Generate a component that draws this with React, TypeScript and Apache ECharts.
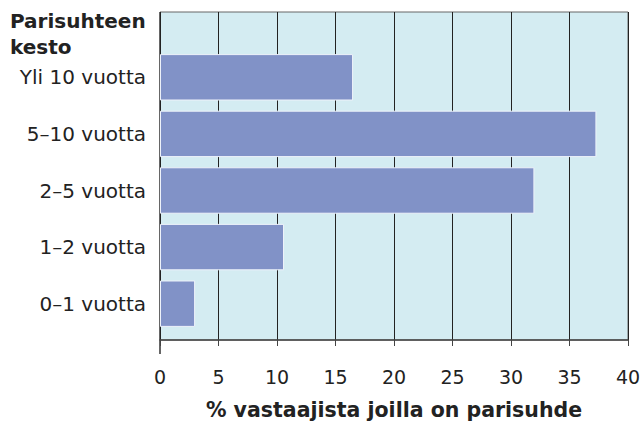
import React, { useEffect, useRef } from "react";
import * as echarts from "echarts";

const categories = ["0–1 vuotta", "1–2 vuotta", "2–5 vuotta", "5–10 vuotta", "Yli 10 vuotta"];
const values = [3.0, 10.6, 32.0, 37.3, 16.5];
const xTicks = [0, 5, 10, 15, 20, 25, 30, 35, 40];
const yTitle = ["Parisuhteen", "kesto"];
const xTitle = "% vastaajista joilla on parisuhde";

const FONT = "DejaVu Sans";

export default function App() {
  const ref = useRef<HTMLDivElement>(null);
  useEffect(() => {
    const chart = echarts.init(ref.current!, null, { renderer: "svg" });
    chart.setOption({
      animation: false,
      backgroundColor: "#ffffff",
      grid: [
        {
          left: 160, right: 16, top: 12, bottom: 71,
          show: true, backgroundColor: "#d4ecf2", borderColor: "#666", borderWidth: 1,
        },
        { left: 160, right: 16, top: 49, bottom: 93 },
      ],
      xAxis: [
        {
          gridIndex: 0, type: "value", min: xTicks[0], max: xTicks[xTicks.length - 1], interval: 5,
          axisLine: { show: true, lineStyle: { color: "#444", width: 1.5 } },
          axisTick: { show: true, length: 6, lineStyle: { color: "#444" } },
          axisLabel: { fontFamily: FONT, fontSize: 19, color: "#222", margin: 27 },
          splitLine: { show: true, lineStyle: { color: "#222", width: 1 } },
          name: xTitle, nameLocation: "middle", nameGap: 59,
          nameTextStyle: { fontFamily: FONT, fontSize: 20.5, fontWeight: "bold", color: "#222" },
        },
        {
          gridIndex: 1, type: "value", min: xTicks[0], max: xTicks[xTicks.length - 1], interval: 5,
          show: false,
        },
      ],
      yAxis: [
        { gridIndex: 0, type: "value", show: false, min: 0, max: 1 },
        {
          gridIndex: 1, type: "category", data: categories,
          axisLine: { show: false }, axisTick: { show: false },
          axisLabel: { fontFamily: FONT, fontSize: 20, color: "#222", margin: 14 },
        },
      ],
      series: [
        {
          type: "bar", xAxisIndex: 1, yAxisIndex: 1, data: values,
          barCategoryGap: "18%",
          itemStyle: { color: "#8192c7", borderColor: "#eef2fa", borderWidth: 1 },
        },
      ],
      graphic: [
        {
          type: "text", left: 10, top: 8,
          style: {
            text: yTitle.join("\n"), fontFamily: FONT, fontSize: 20, fontWeight: "bold",
            fill: "#222", lineHeight: 26,
          },
        },
        {
          type: "line", shape: { x1: 160, y1: 12, x2: 160, y2: 354 },
          style: { stroke: "#666", lineWidth: 2 },
        },
      ],
    });
    return () => chart.dispose();
  }, []);
  return (
    <div
      ref={ref}
      style={{ position: "fixed", left: 0, top: 0, width: 644, height: 425 }}
    />
  );
}
